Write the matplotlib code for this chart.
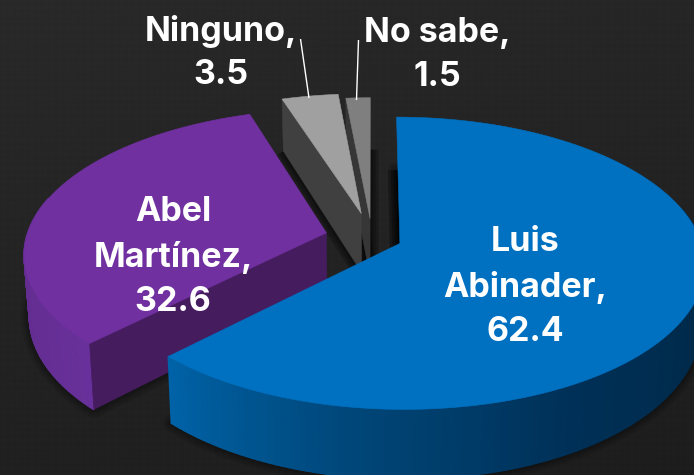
import numpy as np
import matplotlib
matplotlib.use("Agg")
import matplotlib.pyplot as plt
from matplotlib.patches import Polygon
from matplotlib.colors import LinearSegmentedColormap

# ---- data ----
names = ["Luis\nAbinader", "Abel\nMartínez", "Ninguno", "No sabe"]
values = [62.4, 32.6, 3.5, 1.5]
top_colors = ["#0070C0", "#7030A0", "#A0A0A0", "#7F7F7F"]
explode = [0.10, 0.157, 0.18, 0.14]

label_pos = [(525, 287), (173, 257), (221, 53), (437, 55)]
leaders = [None, None, ((300.5, 39), (309, 98)), ((358.5, 40), (356.5, 100))]

# ---- projection parameters ----
CX, CY, RX, RY, K, DEPTH, SHRINK = 372, 238, 300, 142, 0.135, 60, 0.985
W, H = 694, 475

fig = plt.figure(figsize=(W / 100, H / 100), dpi=100)
ax = fig.add_axes([0, 0, 1, 1])
ax.set_xlim(0, W)
ax.set_ylim(H, 0)
ax.axis("off")

# background: dark slate with faint diamond texture
yy, xx = np.mgrid[0:H, 0:W]
base = 41 - 9 * (yy / H) - 3 * (xx / W)
tex = 1.0 * np.sin((xx + yy) * 0.45) * np.sin((xx - yy) * 0.45)
bg = np.clip(base + tex, 0, 255) / 255
ax.imshow(np.dstack([bg, bg, bg]).clip(0, 1), extent=(0, W, H, 0), aspect="auto", zorder=0)


def proj(u, v, bottom=False):
    u, v = np.asarray(u, float), np.asarray(v, float)
    w = 1 / (1 + K * v)
    x = CX + RX * u * w
    y = CY - RY * v * w
    if bottom:
        x = CX + (x - CX) * SHRINK
        y = y + DEPTH * w
    return np.column_stack([x, y])


def soft(points, z, widths=(12, 8, 5, 2), alpha=0.10):
    for lw in widths:
        ax.add_patch(Polygon(points, closed=True, fc=(0, 0, 0, alpha), ec=(0, 0, 0, alpha),
                             lw=lw, joinstyle="round", zorder=z))


# slices start at 12 o'clock and go clockwise
fracs = np.array(values) / sum(values) * 2 * np.pi
starts = np.pi / 2 - np.concatenate([[0], np.cumsum(fracs)[:-1]])
ends = starts - fracs

rim_maps = {
    0: LinearSegmentedColormap.from_list("b", ["#0063A8", "#004678", "#003057", "#002A4A", "#002A4A"]),
    1: LinearSegmentedColormap.from_list("p", ["#5C2884", "#5E2A86", "#68309A"]),
}
cut_colors = {1: "#451C5E", 2: "#404040", 3: "#363636"}

order = [3, 2, 1, 0]
for rank, i in enumerate(order):
    z = 10 + rank * 10
    mid = (starts[i] + ends[i]) / 2
    ou, ov = explode[i] * np.cos(mid), explode[i] * np.sin(mid)
    t = np.linspace(starts[i], ends[i], 200)
    au, av = ou + np.cos(t), ov + np.sin(t)
    top = np.vstack([proj(ou, ov), proj(au, av)])
    bot = np.vstack([proj(ou, ov, True), proj(au, av, True)])
    su, sv = ou + np.cos(starts[i]), ov + np.sin(starts[i])

    if i in (0, 1):
        soft(bot, z)
        tt = proj(au, av)
        bb = proj(au, av, True)
        cmap = rim_maps[i]
        if i == 0:
            cval = np.clip((t + 2.35) / 2.6, 0, 1)
        else:
            cval = np.clip((t - t.min()) / (t.max() - t.min()), 0, 1)
        for j in np.argsort(-av[:-1]):
            if np.sin(t[j]) < 0.25:
                ax.add_patch(Polygon([tt[j], tt[j + 1], bb[j + 1], bb[j]], closed=True,
                                     fc=cmap(cval[j]), ec=cmap(cval[j]), lw=1.2, zorder=z + 1))

    if i != 1:
        # shadow cast along the foot of the cut wall
        foot = [proj(ou, ov, True)[0], proj(su, sv, True)[0]]
        soft(foot, z, widths=(12, 8, 4), alpha=0.22)
        if i == 3:
            eu, ev = ou + np.cos(ends[i]), ov + np.sin(ends[i])
            soft([proj(ou, ov, True)[0], proj(eu, ev, True)[0]], z, widths=(12, 8, 4), alpha=0.22)

    if i in cut_colors:
        wall = [proj(ou, ov)[0], proj(su, sv)[0], proj(su, sv, True)[0], proj(ou, ov, True)[0]]
        ax.add_patch(Polygon(wall, closed=True, fc=cut_colors[i], ec=cut_colors[i], lw=0.4, zorder=z + 2))

    ax.add_patch(Polygon(top, closed=True, fc=top_colors[i], ec=top_colors[i], lw=0.4, zorder=z + 3))

    if leaders[i] is not None:
        (x0, y0), (x1, y1) = leaders[i]
        ax.plot([x0, x1], [y0, y1], color="white", lw=1.0, zorder=z + 4, solid_capstyle="butt")

for i, (x, y) in enumerate(label_pos):
    ax.text(x, y, f"{names[i]},\n{values[i]}", ha="center", va="center", color="white",
            family="Inter", fontweight="bold", fontsize=24.5, linespacing=1.48, zorder=60)

fig.savefig("out.png", dpi=100)
